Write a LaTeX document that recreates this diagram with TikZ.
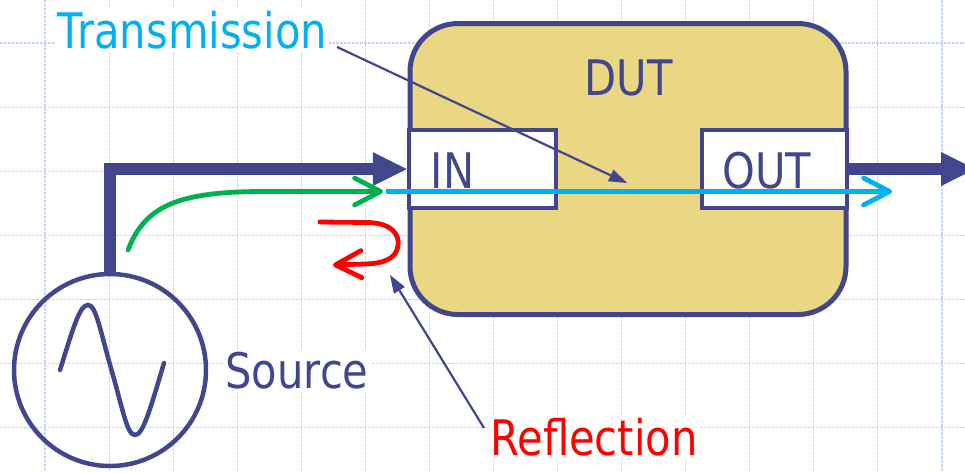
\documentclass[tikz,border=0pt]{standalone}
\usepackage{fontspec}
\setmainfont{DejaVu Sans}[FakeStretch=0.85]
\usetikzlibrary{arrows.meta}

\definecolor{navy}{RGB}{66,70,140}
\definecolor{dutfill}{RGB}{234,215,131}
\definecolor{gridc}{RGB}{200,212,248}
\definecolor{sigred}{RGB}{255,0,0}
\definecolor{siggreen}{RGB}{0,176,80}
\definecolor{sigcyan}{RGB}{0,176,240}

\begin{document}
\begin{tikzpicture}[x=1pt,y=-1pt,
  gridline/.style={gridc,line width=1.1pt,dash pattern=on 2.5pt off 1.5pt},
  lbl/.style={font=\fontsize{49}{50}\selectfont,anchor=base,inner sep=2pt},
  port/.style={rectangle,draw=navy,fill=white,line width=4.5pt,minimum height=78pt,inner sep=0pt},
  bigarrow/.style={navy,line width=11.5pt,-{Triangle[length=34pt,width=34pt,line width=0pt]}},
  signal/.style={line width=4.8pt,line cap=round,-{Straight Barb[length=26pt,width=27pt,round]}},
  pointer/.style={navy,line width=2.2pt,-{Triangle[length=18pt,width=13pt,line width=0pt]}}]

\useasboundingbox (0,0) rectangle (965,472);

% background grid
\foreach \i in {0,...,14}
  \draw[gridline] ({45+64.07*\i},0) -- ({45+64.07*\i},472);
\foreach \j in {0,...,6}
  \draw[gridline] (0,{43+64.1*\j}) -- (965,{43+64.1*\j});

% device under test with its two ports
\node[rectangle,rounded corners=48pt,draw=navy,fill=dutfill,line width=5pt,
      minimum width=436pt,minimum height=291pt,inner sep=0pt] (dut) at (628,169) {};
\node[lbl,text=navy] (dutlbl) at (628.5,95) {DUT};
\node[port,minimum width=147pt] (in) at (482.5,169) {};
\node[port,minimum width=145pt] (out) at (774.5,169) {};
\node[lbl,text=navy] (inlbl) at (452.5,188) {IN};
\node[lbl,text=navy] (outlbl) at (767,188) {OUT};

% signal source
\node[circle,draw=navy,line width=4.5pt,minimum size=192pt,inner sep=0pt] (src) at (110,370) {};
\draw[navy,line width=4.5pt,line cap=round]
  (60,370) .. controls (74,325) and (80,305) .. (88,305)
  .. controls (96,305) and (100,330) .. (111.5,370)
  .. controls (123,410) and (127,435) .. (135,435)
  .. controls (143,435) and (150,410) .. (164,363);
\node[lbl,text=navy,fill=white] (srclbl) at (297,388) {Source};

% main signal path
\draw[bigarrow] (src.north) |- (in.west);
\coordinate (outend) at (975,169);
\draw[bigarrow] (out.east) -- (outend);

% incident, transmitted and reflected waves
\coordinate (g0) at (128,250);
\coordinate (g1) at (383,191.5);
\draw[signal,siggreen] (g0) .. controls (145,205) and (180,192) .. (260,191.5) -- (g1);
\coordinate (c0) at (386,191.5);
\coordinate (c1) at (892,191.5);
\draw[signal,sigcyan,line cap=butt] (c0) -- (c1);
\coordinate (r0) at (320,222);
\coordinate (r1) at (333,265);
\draw[signal,sigred] (r0) -- (368,222.5)
  .. controls (392,223) and (400,235) .. (398,246)
  .. controls (396,258) and (385,263.5) .. (365,264) -- (r1);

% labels with their pointers
\node[lbl,text=sigcyan,fill=white] (trans) at (192.5,48) {Transmission};
\node[lbl,text=sigred,fill=white] (refl) at (594,455) {Reflection};
\coordinate (ttail) at (337,47);
\coordinate (ttip) at (627,183);
\draw[pointer] (ttail) -- (ttip);
\coordinate (rtail) at (484,428);
\coordinate (rtip) at (390,275);
\draw[pointer] (rtail) -- (rtip);

\end{tikzpicture}
\end{document}
